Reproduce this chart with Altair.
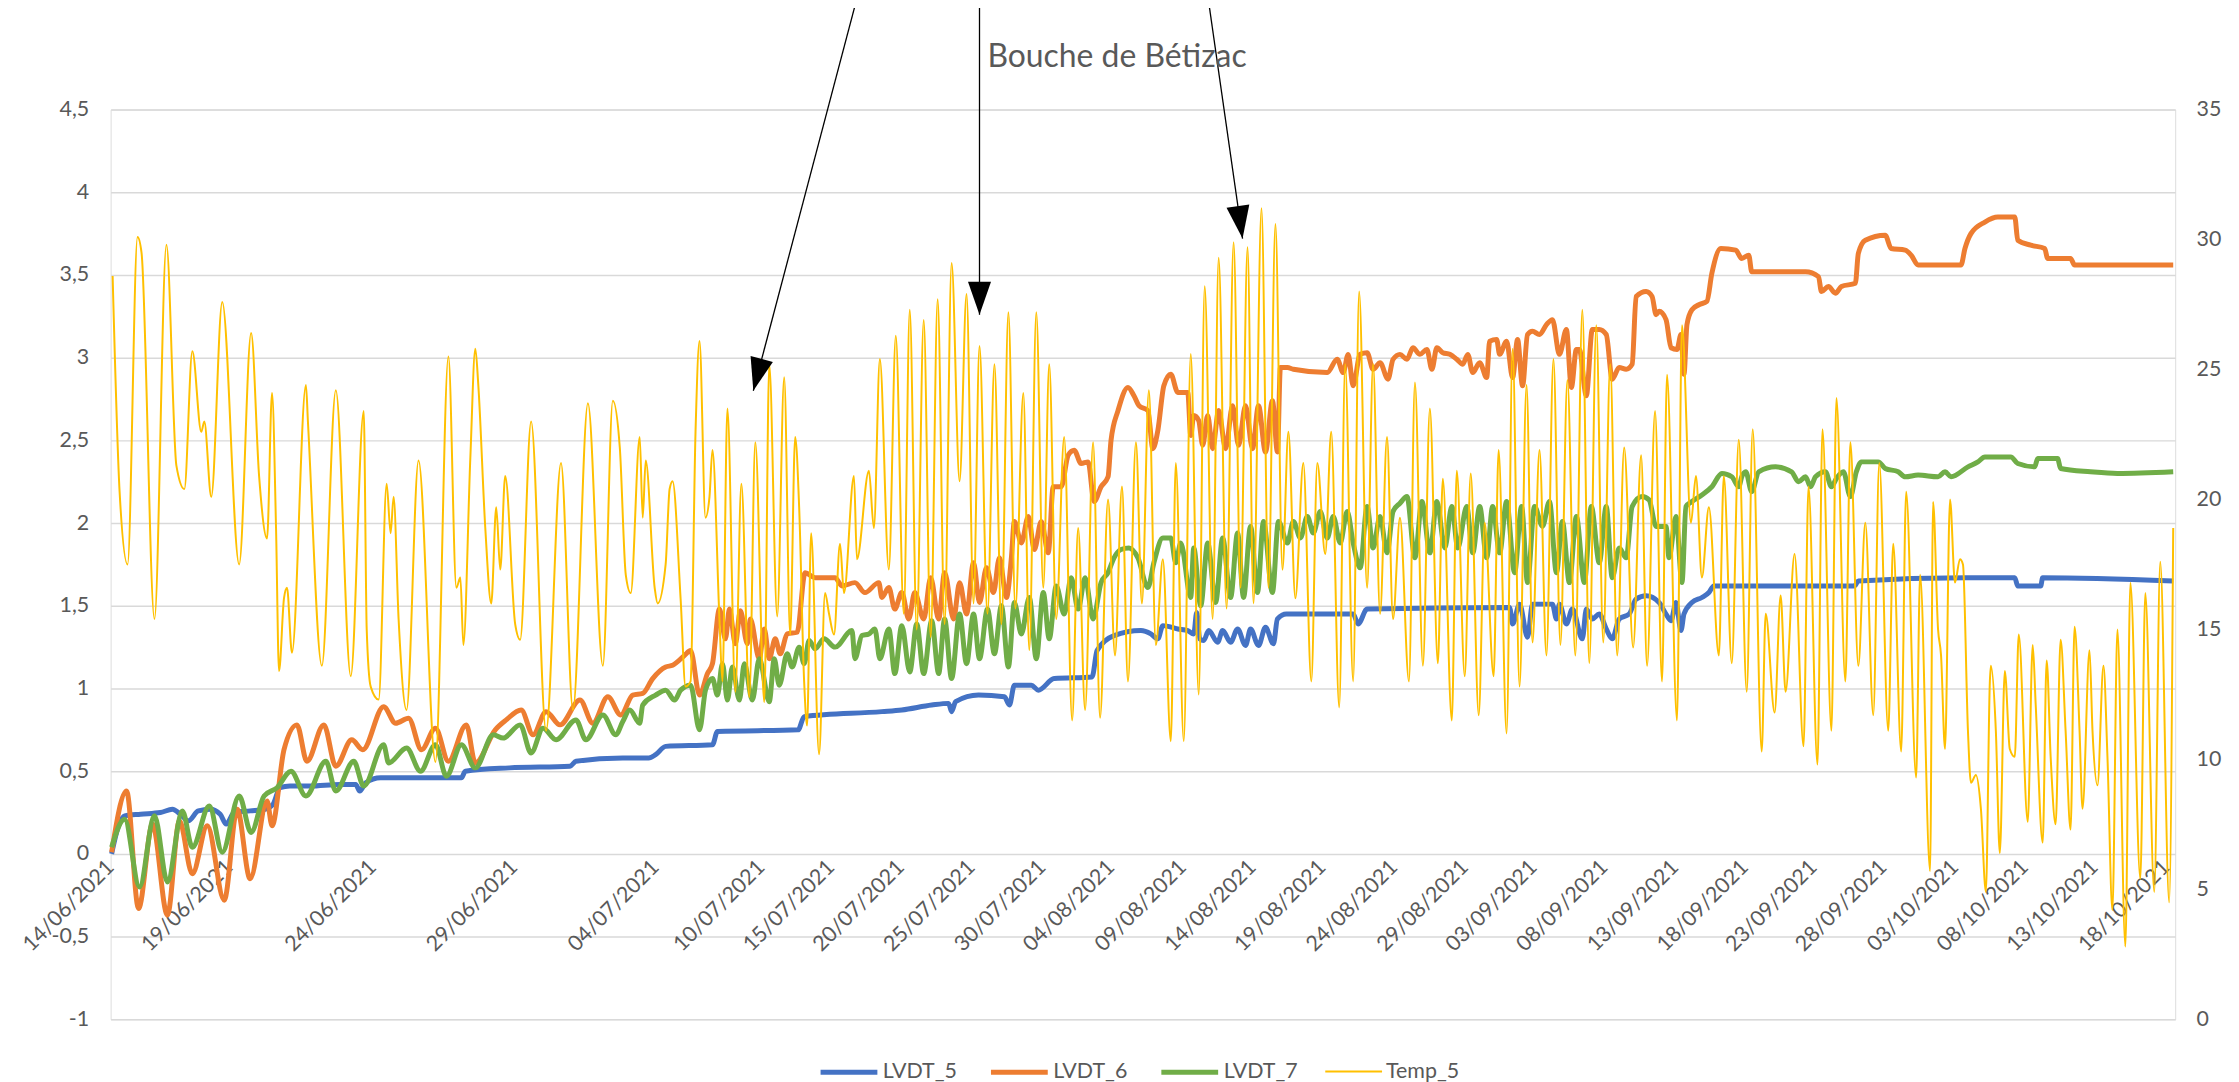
import altair as alt
import pandas as pd

TITLE = "Bouche de Bétizac"
SERIES = ["LVDT_5", "LVDT_6", "LVDT_7", "Temp_5"]
COLORS = ["#4472C4", "#ED7D31", "#70AD47", "#FFC000"]
WIDTHS = [5, 5, 5, 2]

# category-axis positions of the date labels
TICK_POS = [0, 119, 263, 405, 547, 653, 723, 793, 864, 935, 1004, 1076, 1146, 1216,
            1288, 1359, 1428, 1499, 1570, 1640, 1709, 1779, 1851, 1921, 1991, 2063]
TICK_LABELS = ["14/06/2021", "19/06/2021", "24/06/2021", "29/06/2021", "04/07/2021",
               "10/07/2021", "15/07/2021", "20/07/2021", "25/07/2021", "30/07/2021",
               "04/08/2021", "09/08/2021", "14/08/2021", "19/08/2021", "24/08/2021",
               "29/08/2021", "03/09/2021", "08/09/2021", "13/09/2021", "18/09/2021",
               "23/09/2021", "28/09/2021", "03/10/2021", "08/10/2021", "13/10/2021",
               "18/10/2021"]
X_MAX = 2072

LEFT_TICKS = [-1, -0.5, 0, 0.5, 1, 1.5, 2, 2.5, 3, 3.5, 4, 4.5]
RIGHT_TICKS = [0, 5, 10, 15, 20, 25, 30, 35]

# (category position, value)
LVDT_5 = [(1, 0.00), (8, 0.17), (14, 0.23), (30, 0.24), (50, 0.25), (62, 0.27), (70, 0.24),
          (78, 0.20), (88, 0.26), (100, 0.27), (110, 0.24), (116, 0.18), (124, 0.25), (140, 0.26),
          (155, 0.27), (163, 0.30), (170, 0.40), (180, 0.41), (200, 0.41), (230, 0.42), (246, 0.42),
          (250, 0.38), (256, 0.43), (271, 0.46), (320, 0.46), (352, 0.46), (356, 0.50), (400, 0.52),
          (461, 0.53), (467, 0.56), (514, 0.58), (540, 0.58), (547, 0.60), (557, 0.65), (604, 0.66),
          (609, 0.74), (690, 0.75), (696, 0.83), (774, 0.86), (794, 0.87), (824, 0.90), (841, 0.91),
          (844, 0.86), (848, 0.92), (871, 0.96), (897, 0.95), (902, 0.90), (907, 1.02), (924, 1.02),
          (931, 0.99), (947, 1.06), (985, 1.07), (990, 1.23), (1007, 1.32), (1034, 1.35),
          (1044, 1.33), (1051, 1.30), (1056, 1.38), (1071, 1.36), (1081, 1.35), (1087, 1.33),
          (1090, 1.46), (1093, 1.30), (1097, 1.29), (1102, 1.35), (1111, 1.28), (1116, 1.35),
          (1124, 1.28), (1131, 1.36), (1139, 1.26), (1144, 1.36), (1152, 1.26), (1159, 1.37),
          (1167, 1.27), (1171, 1.42), (1180, 1.45), (1247, 1.45), (1252, 1.39), (1261, 1.48),
          (1404, 1.49), (1407, 1.39), (1414, 1.51), (1422, 1.31), (1427, 1.51), (1447, 1.51),
          (1451, 1.42), (1454, 1.51), (1461, 1.39), (1467, 1.48), (1477, 1.30), (1481, 1.48),
          (1487, 1.42), (1494, 1.45), (1501, 1.36), (1507, 1.30), (1514, 1.42), (1524, 1.45),
          (1531, 1.54), (1541, 1.56), (1554, 1.52), (1561, 1.45), (1566, 1.41), (1571, 1.52),
          (1576, 1.35), (1579, 1.45), (1587, 1.52), (1597, 1.55), (1604, 1.58), (1609, 1.62),
          (1750, 1.62), (1754, 1.65), (1861, 1.67), (1911, 1.67), (1914, 1.62), (1937, 1.62),
          (1939, 1.67), (2070, 1.65)]

LVDT_6 = [(1, 0.01), (16, 0.38), (28, -0.33), (42, 0.18), (57, -0.37), (69, 0.20), (82, -0.12),
          (97, 0.17), (114, -0.28), (127, 0.27), (140, -0.15), (157, 0.32), (162, 0.17), (174, 0.63),
          (187, 0.78), (197, 0.56), (214, 0.78), (226, 0.53), (242, 0.69), (253, 0.63), (274, 0.89),
          (286, 0.79), (299, 0.82), (312, 0.63), (326, 0.76), (339, 0.56), (357, 0.78), (366, 0.55),
          (386, 0.75), (397, 0.81), (412, 0.87), (424, 0.72), (437, 0.86), (451, 0.78), (471, 0.93),
          (484, 0.79), (499, 0.95), (512, 0.84), (524, 0.96), (534, 0.97), (544, 1.06), (557, 1.13),
          (564, 1.14), (576, 1.20), (582, 1.23), (591, 0.96), (599, 1.09), (604, 1.15), (611, 1.48),
          (617, 1.30), (621, 1.48), (627, 1.27), (632, 1.47), (639, 1.27), (642, 1.42), (651, 1.18),
          (656, 1.36), (661, 1.18), (667, 1.30), (672, 1.21), (679, 1.33), (689, 1.34), (697, 1.70),
          (707, 1.67), (727, 1.67), (734, 1.62), (747, 1.64), (757, 1.58), (771, 1.64), (774, 1.55),
          (781, 1.61), (787, 1.48), (794, 1.58), (801, 1.42), (807, 1.58), (816, 1.42), (823, 1.67),
          (831, 1.42), (837, 1.70), (846, 1.42), (852, 1.64), (859, 1.45), (866, 1.76), (872, 1.52),
          (879, 1.73), (886, 1.58), (892, 1.79), (899, 1.55), (904, 1.79), (907, 2.01), (914, 1.88),
          (921, 2.04), (927, 1.84), (934, 2.01), (941, 1.82), (946, 2.22), (954, 2.22), (961, 2.41),
          (967, 2.44), (974, 2.36), (981, 2.37), (987, 2.13), (994, 2.22), (1001, 2.28),
          (1004, 2.50), (1011, 2.68), (1021, 2.82), (1027, 2.77), (1032, 2.71), (1041, 2.68),
          (1046, 2.45), (1051, 2.56), (1057, 2.83), (1064, 2.90), (1071, 2.79), (1081, 2.79),
          (1084, 2.53), (1087, 2.65), (1092, 2.62), (1096, 2.47), (1101, 2.65), (1106, 2.45),
          (1112, 2.68), (1119, 2.45), (1126, 2.71), (1132, 2.47), (1139, 2.71), (1146, 2.45),
          (1152, 2.71), (1159, 2.43), (1166, 2.74), (1171, 2.43), (1174, 2.94), (1181, 2.94),
          (1187, 2.93), (1221, 2.91), (1231, 2.99), (1237, 2.91), (1242, 3.02), (1247, 2.83),
          (1254, 3.02), (1261, 3.03), (1267, 2.93), (1274, 2.97), (1282, 2.87), (1287, 2.99),
          (1294, 3.02), (1301, 2.99), (1307, 3.06), (1314, 3.02), (1321, 3.05), (1326, 2.93),
          (1331, 3.06), (1337, 3.03), (1344, 3.02), (1351, 2.99), (1357, 2.96), (1362, 3.02),
          (1367, 2.91), (1374, 2.97), (1381, 2.88), (1384, 3.10), (1391, 3.11), (1394, 3.02),
          (1401, 3.10), (1407, 2.88), (1412, 3.11), (1417, 2.83), (1422, 3.14), (1427, 3.16),
          (1434, 3.14), (1441, 3.20), (1447, 3.23), (1454, 3.02), (1461, 3.17), (1466, 2.82),
          (1471, 3.05), (1474, 3.05), (1481, 2.77), (1487, 3.17), (1494, 3.17), (1501, 3.14),
          (1507, 2.87), (1514, 2.94), (1521, 2.93), (1527, 2.96), (1531, 3.37), (1541, 3.40),
          (1547, 3.37), (1551, 3.26), (1554, 3.28), (1561, 3.23), (1566, 3.06), (1572, 3.05),
          (1576, 3.14), (1579, 2.90), (1582, 3.20), (1587, 3.29), (1594, 3.32), (1602, 3.34),
          (1607, 3.51), (1616, 3.66), (1631, 3.65), (1637, 3.60), (1644, 3.62), (1647, 3.52),
          (1701, 3.52), (1714, 3.49), (1717, 3.40), (1724, 3.43), (1731, 3.39), (1737, 3.43),
          (1751, 3.45), (1754, 3.63), (1761, 3.71), (1781, 3.74), (1787, 3.66), (1801, 3.65),
          (1807, 3.62), (1814, 3.56), (1857, 3.56), (1861, 3.66), (1867, 3.75), (1881, 3.82),
          (1894, 3.85), (1911, 3.85), (1914, 3.71), (1927, 3.68), (1941, 3.66), (1944, 3.60),
          (1967, 3.60), (1971, 3.56), (2070, 3.56)]

LVDT_7 = [(1, 0.04), (14, 0.21), (29, -0.20), (44, 0.23), (57, -0.17), (72, 0.26), (82, 0.04),
          (99, 0.29), (112, 0.01), (129, 0.35), (141, 0.13), (154, 0.35), (167, 0.40), (181, 0.50),
          (196, 0.35), (216, 0.56), (226, 0.38), (244, 0.56), (254, 0.41), (274, 0.66), (279, 0.55),
          (297, 0.64), (311, 0.50), (326, 0.66), (337, 0.47), (352, 0.66), (366, 0.52), (384, 0.72),
          (394, 0.70), (411, 0.78), (422, 0.61), (434, 0.76), (447, 0.69), (467, 0.81), (477, 0.69),
          (494, 0.84), (507, 0.72), (514, 0.80), (521, 0.87), (531, 0.79), (534, 0.90), (547, 0.96),
          (557, 0.99), (566, 0.93), (572, 0.99), (582, 1.02), (591, 0.75), (597, 0.99), (604, 1.06),
          (609, 0.96), (614, 1.15), (619, 0.93), (624, 1.13), (631, 0.93), (636, 1.15), (644, 0.93),
          (651, 1.18), (661, 0.92), (666, 1.18), (671, 1.02), (679, 1.21), (684, 1.13), (691, 1.25),
          (696, 1.15), (701, 1.29), (707, 1.24), (716, 1.30), (727, 1.25), (744, 1.35), (747, 1.18),
          (754, 1.32), (761, 1.33), (767, 1.36), (772, 1.18), (781, 1.36), (787, 1.09), (794, 1.38),
          (802, 1.10), (809, 1.39), (816, 1.09), (824, 1.41), (831, 1.09), (837, 1.42), (844, 1.06),
          (852, 1.45), (859, 1.15), (866, 1.45), (872, 1.18), (880, 1.48), (887, 1.21), (894, 1.50),
          (901, 1.13), (907, 1.52), (914, 1.33), (922, 1.55), (929, 1.18), (936, 1.58), (942, 1.30),
          (949, 1.62), (957, 1.45), (964, 1.67), (971, 1.48), (978, 1.67), (986, 1.42), (994, 1.64),
          (1001, 1.70), (1007, 1.79), (1014, 1.84), (1022, 1.85), (1031, 1.79), (1041, 1.61),
          (1047, 1.76), (1056, 1.91), (1064, 1.91), (1069, 1.76), (1074, 1.88), (1084, 1.55),
          (1087, 1.85), (1094, 1.50), (1101, 1.88), (1109, 1.52), (1116, 1.91), (1124, 1.55),
          (1131, 1.94), (1137, 1.55), (1144, 1.98), (1151, 1.58), (1157, 2.01), (1166, 1.58),
          (1172, 2.01), (1181, 1.88), (1187, 2.01), (1194, 1.91), (1201, 2.04), (1207, 1.94),
          (1214, 2.07), (1221, 1.91), (1227, 2.04), (1234, 1.88), (1241, 2.07), (1247, 1.88),
          (1254, 1.73), (1261, 2.10), (1267, 1.85), (1274, 2.04), (1281, 1.82), (1287, 2.07),
          (1294, 2.12), (1301, 2.16), (1309, 1.79), (1316, 2.13), (1324, 1.82), (1331, 2.13),
          (1339, 1.85), (1346, 2.10), (1352, 1.85), (1361, 2.10), (1367, 1.82), (1374, 2.10),
          (1381, 1.79), (1387, 2.10), (1394, 1.82), (1401, 2.13), (1409, 1.70), (1416, 2.10),
          (1422, 1.64), (1429, 2.10), (1437, 1.98), (1444, 2.13), (1451, 1.70), (1457, 2.01),
          (1464, 1.64), (1471, 2.04), (1479, 1.64), (1486, 2.10), (1494, 1.76), (1501, 2.10),
          (1507, 1.67), (1514, 1.85), (1521, 1.79), (1527, 2.10), (1537, 2.16), (1544, 2.14),
          (1551, 1.98), (1561, 1.98), (1564, 1.79), (1571, 2.04), (1577, 1.64), (1581, 2.10),
          (1587, 2.13), (1597, 2.17), (1607, 2.22), (1617, 2.30), (1627, 2.28), (1634, 2.22),
          (1637, 2.28), (1641, 2.31), (1647, 2.19), (1654, 2.31), (1671, 2.34), (1687, 2.31),
          (1694, 2.25), (1701, 2.28), (1706, 2.22), (1711, 2.28), (1721, 2.31), (1727, 2.22),
          (1732, 2.27), (1739, 2.31), (1746, 2.16), (1752, 2.31), (1757, 2.37), (1774, 2.37),
          (1781, 2.33), (1794, 2.31), (1801, 2.28), (1814, 2.29), (1834, 2.28), (1841, 2.31),
          (1847, 2.28), (1864, 2.34), (1874, 2.37), (1881, 2.40), (1907, 2.40), (1914, 2.36),
          (1931, 2.34), (1934, 2.39), (1954, 2.39), (1957, 2.33), (1987, 2.31), (2014, 2.30),
          (2070, 2.31)]

TEMP_5 = [(2, 28.6), (9, 20.3), (17, 17.5), (27, 30.1), (31, 29.5), (44, 15.4), (56, 29.8),
          (66, 21.3), (74, 20.4), (82, 25.7), (91, 22.6), (94, 23.0), (101, 20.1), (112, 27.6),
          (129, 17.5), (141, 26.4), (149, 20.9), (157, 18.5), (162, 24.1), (166, 18.9), (169, 13.4),
          (174, 16.2), (177, 16.6), (182, 14.1), (196, 24.4), (198, 23.0), (212, 13.6), (226, 24.2),
          (241, 13.2), (254, 23.4), (257, 15.0), (261, 12.8), (269, 12.3), (277, 20.6), (281, 18.7),
          (284, 20.1), (289, 15.4), (297, 11.9), (309, 21.5), (326, 9.9), (339, 25.5), (347, 16.6),
          (351, 17.0), (354, 14.4), (361, 21.6), (366, 25.8), (369, 24.4), (376, 18.9), (382, 16.0),
          (387, 19.7), (391, 17.3), (396, 20.9), (406, 15.2), (411, 14.6), (422, 23.0), (437, 11.1),
          (452, 21.4), (464, 11.9), (479, 23.7), (494, 13.6), (504, 23.8), (511, 22.0), (517, 17.1),
          (522, 16.4), (531, 22.4), (534, 19.3), (537, 21.5), (546, 16.6), (549, 16.0), (557, 17.5),
          (561, 20.4), (564, 20.7), (572, 16.2), (577, 12.8), (582, 13.0), (587, 22.6), (591, 26.1),
          (597, 19.3), (601, 20.1), (604, 21.9), (611, 15.4), (614, 13.0), (619, 23.5), (627, 12.6),
          (633, 20.6), (641, 12.4), (647, 22.2), (656, 12.2), (661, 25.2), (669, 15.5), (676, 24.7),
          (682, 14.8), (687, 22.4), (691, 19.7), (696, 13.0), (699, 11.3), (703, 18.7), (711, 10.2),
          (717, 16.4), (721, 15.6), (726, 14.8), (732, 18.3), (736, 16.4), (746, 20.9), (749, 17.7),
          (761, 21.1), (766, 18.9), (772, 25.4), (781, 17.3), (788, 26.3), (796, 15.6), (802, 27.3),
          (809, 15.0), (816, 26.9), (823, 14.7), (830, 27.7), (837, 15.2), (844, 29.1), (852, 20.7),
          (859, 27.9), (866, 16.0), (872, 25.9), (880, 15.6), (887, 25.2), (894, 15.2), (901, 27.2),
          (908, 15.8), (916, 24.1), (922, 14.2), (929, 27.2), (936, 16.6), (942, 25.2), (949, 15.4),
          (957, 22.4), (965, 11.5), (971, 18.9), (978, 11.9), (986, 22.2), (993, 11.6), (1001, 20.0),
          (1008, 14.0), (1015, 20.5), (1021, 13.0), (1029, 22.2), (1035, 16.0), (1042, 24.2),
          (1049, 14.4), (1056, 17.7), (1064, 10.7), (1069, 21.4), (1077, 10.7), (1084, 25.6),
          (1092, 12.5), (1098, 28.2), (1106, 15.4), (1112, 29.3), (1120, 15.8), (1127, 29.9),
          (1134, 16.6), (1141, 29.7), (1147, 16.0), (1155, 31.2), (1162, 16.6), (1169, 30.6),
          (1176, 17.3), (1182, 22.6), (1189, 16.2), (1197, 21.4), (1205, 13.0), (1211, 21.4),
          (1219, 17.9), (1225, 22.6), (1233, 12.0), (1239, 25.2), (1247, 13.0), (1253, 28.0),
          (1261, 16.6), (1267, 25.2), (1274, 15.6), (1281, 22.4), (1287, 15.4), (1294, 19.3),
          (1303, 13.0), (1309, 24.5), (1317, 13.6), (1324, 23.5), (1332, 13.7), (1337, 20.8),
          (1346, 11.5), (1351, 21.1), (1359, 13.2), (1365, 21.0), (1373, 11.7), (1379, 19.1),
          (1388, 13.2), (1393, 21.9), (1401, 11.0), (1407, 25.8), (1414, 12.8), (1421, 24.4),
          (1427, 14.5), (1434, 21.9), (1441, 14.0), (1448, 25.4), (1455, 14.4), (1462, 24.6),
          (1470, 14.0), (1477, 27.3), (1484, 13.7), (1491, 26.7), (1498, 14.5), (1505, 25.2),
          (1512, 14.0), (1519, 22.0), (1528, 14.3), (1536, 21.7), (1542, 13.6), (1550, 23.4),
          (1557, 13.0), (1562, 24.8), (1572, 11.5), (1577, 26.7), (1586, 19.1), (1591, 20.9),
          (1597, 17.0), (1604, 19.7), (1614, 14.0), (1619, 20.9), (1627, 13.7), (1634, 22.3),
          (1642, 12.6), (1648, 22.7), (1657, 10.3), (1661, 15.6), (1670, 11.8), (1676, 16.3),
          (1681, 12.6), (1690, 17.9), (1699, 10.5), (1704, 20.5), (1713, 9.8), (1718, 22.7),
          (1727, 11.1), (1732, 23.9), (1741, 13.0), (1746, 22.2), (1754, 13.6), (1761, 19.1),
          (1769, 11.7), (1775, 21.4), (1784, 11.1), (1789, 18.3), (1797, 10.3), (1802, 20.3),
          (1812, 9.3), (1816, 17.1), (1826, 5.7), (1829, 19.9), (1834, 15.0), (1837, 14.0),
          (1841, 10.4), (1846, 20.0), (1851, 16.8), (1856, 17.7), (1859, 17.5), (1864, 11.1),
          (1867, 9.1), (1872, 9.4), (1877, 8.1), (1882, 4.9), (1886, 13.0), (1887, 13.6),
          (1892, 11.1), (1896, 6.4), (1901, 13.4), (1906, 10.4), (1911, 10.1), (1915, 14.8),
          (1924, 7.6), (1929, 14.4), (1932, 12.1), (1939, 6.8), (1943, 13.8), (1947, 10.1),
          (1952, 7.5), (1957, 14.6), (1962, 11.1), (1967, 7.3), (1971, 15.1), (1976, 11.1),
          (1979, 8.1), (1986, 14.2), (1989, 11.1), (1994, 9.0), (2000, 13.6), (2004, 10.1),
          (2009, 4.2), (2014, 15.0), (2022, 2.8), (2027, 16.8), (2037, 5.4), (2042, 16.4),
          (2051, 4.9), (2057, 17.6), (2066, 4.5), (2070, 18.9)]

# annotation arrows (left-axis units)
ARROW_X0 = [748, 872, 1102]
ARROW_Y0 = [5.15, 5.15, 5.15]
ARROW_X1 = [645, 872, 1136]
ARROW_Y1 = [2.80, 3.26, 3.72]
ARROW_ANGLE = [14.8, 0, 351.9]

# chart title anchor (category position, left-axis units)
TITLE_X = [1010]
TITLE_Y = [4.76]

FONT = "Lato"
TXT = "#595959"
GRID = "#D9D9D9"

rows = []
for name, pts in (("LVDT_5", LVDT_5), ("LVDT_6", LVDT_6), ("LVDT_7", LVDT_7)):
    for x, v in pts:
        rows.append({"series": name, "idx": x, "val": v})
lvdt_df = pd.DataFrame(rows)
temp_df = pd.DataFrame({"series": "Temp_5", "idx": [p[0] for p in TEMP_5],
                        "val": [p[1] for p in TEMP_5]})
arrow_df = pd.DataFrame({"x0": ARROW_X0, "y0": ARROW_Y0, "x1": ARROW_X1, "y1": ARROW_Y1,
                         "angle": ARROW_ANGLE})
title_df = pd.DataFrame({"x": TITLE_X, "y": TITLE_Y, "t": [TITLE]})

label_expr = ("[" + ",".join(f"'{s}'" for s in TICK_LABELS) + "][indexof(["
              + ",".join(str(p) for p in TICK_POS) + "], datum.value)]")

x_scale = alt.Scale(domain=[0, X_MAX], nice=False, zero=False)
x_axis = alt.Axis(values=TICK_POS, labelExpr=label_expr, labelAngle=-45, labelAlign="right",
                  labelBaseline="middle", labelPadding=10, offset=-166, domain=False,
                  ticks=False, grid=False, title=None, labelOverlap=False, labelFontSize=21.5,
                  labelColor=TXT, labelFont=FONT, labelFlush=False, labelBound=False)

left_scale = alt.Scale(domain=[-1, 4.5], nice=False, zero=False)
left_axis = alt.Axis(values=LEFT_TICKS, labelExpr="replace(toString(datum.value), '.', ',')",
                     grid=True, gridColor=GRID, gridWidth=1.5, domain=False, ticks=False,
                     labelPadding=22, title=None, labelFontSize=21.5, labelColor=TXT,
                     labelFont=FONT)
right_scale = alt.Scale(domain=[0, 35], nice=False, zero=False)
right_axis = alt.Axis(orient="right", values=RIGHT_TICKS, grid=False, domain=False, ticks=False,
                      labelPadding=21, title=None, labelFontSize=21.5, labelColor=TXT,
                      labelFont=FONT)

legend = alt.Legend(orient="none", legendX=710, legendY=935, direction="horizontal", title=None,
                    symbolType="stroke", symbolSize=3249, labelFontSize=21.5, labelColor=TXT,
                    labelFont=FONT, labelOffset=3, columnPadding=23, padding=0)

color = alt.Color("series:N", scale=alt.Scale(domain=SERIES, range=COLORS), legend=legend)
swidth = alt.StrokeWidth("series:N", scale=alt.Scale(type="ordinal", domain=SERIES, range=WIDTHS),
                         legend=legend)

lvdt = alt.Chart(lvdt_df).mark_line(strokeJoin="round", interpolate="monotone").encode(
    x=alt.X("idx:Q", scale=x_scale, axis=x_axis),
    y=alt.Y("val:Q", scale=left_scale, axis=left_axis),
    color=color, strokeWidth=swidth,
)
temp = alt.Chart(temp_df).mark_line(strokeJoin="round", interpolate="monotone").encode(
    x=alt.X("idx:Q", scale=x_scale, axis=x_axis),
    y=alt.Y("val:Q", scale=right_scale, axis=right_axis),
    color=color, strokeWidth=swidth,
)
arrow_lines = alt.Chart(arrow_df).mark_rule(color="black", strokeWidth=1.3).encode(
    x=alt.X("x0:Q", scale=x_scale, axis=x_axis), x2="x1:Q",
    y=alt.Y("y0:Q", scale=left_scale, axis=None), y2="y1:Q",
)
arrow_heads = alt.Chart(arrow_df).mark_point(
    shape="M0,0 L-0.35,-1 L0.35,-1 Z", filled=True, color="black", opacity=1, size=4356,
).encode(
    x=alt.X("x1:Q", scale=x_scale, axis=x_axis),
    y=alt.Y("y1:Q", scale=left_scale, axis=None),
    angle=alt.Angle("angle:Q", scale=None),
)
title_mark = alt.Chart(title_df).mark_text(
    fontSize=32, color=TXT, font=FONT, align="center", baseline="alphabetic",
).encode(
    x=alt.X("x:Q", scale=x_scale, axis=x_axis),
    y=alt.Y("y:Q", scale=left_scale, axis=None),
    text="t:N",
)

chart = alt.layer(lvdt, temp, arrow_lines, arrow_heads, title_mark).resolve_scale(
    y="independent"
).properties(
    width=2072, height=913,
    padding={"left": 103, "top": 100, "right": 56, "bottom": 61},
    autosize=alt.AutoSizeParams(type="none"),
).configure_view(strokeWidth=0).configure(font=FONT, background="white")

chart.save("out.html", embed_options={"renderer": "svg", "actions": False})
